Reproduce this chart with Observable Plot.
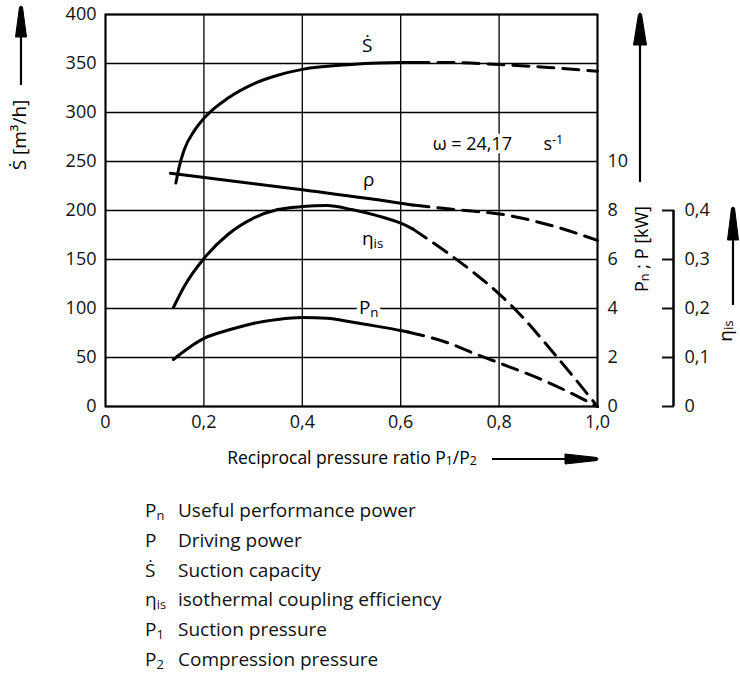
<!DOCTYPE html>
<html><head><meta charset="utf-8">
<script src="https://cdn.jsdelivr.net/npm/d3@7"></script>
<script src="https://cdn.jsdelivr.net/npm/@observablehq/plot@0.6"></script>
<style>
body{margin:0;background:#fff;font-family:"Open Sans",sans-serif;color:#111}
#legend{padding-top:26px;padding-left:145px}
.row{height:29.8px;line-height:29.8px;font-size:19px;display:flex}
.sym{width:33px}
sub{font-size:0.68em;vertical-align:-0.25em;line-height:0}
</style></head><body><div id="chart"></div><div id="legend"></div>
<script>
// ---- tick values / labels ----
const xTicks = [0, 0.2, 0.4, 0.6, 0.8, 1.0];
const xTickLabels = ["0", "0,2", "0,4", "0,6", "0,8", "1,0"];
const sTicks = [0, 50, 100, 150, 200, 250, 300, 350, 400];
const kwTicks = [0, 2, 4, 6, 8, 10];
const etaTicks = [0, 0.1, 0.2, 0.3, 0.4];
const etaTickLabels = ["0", "0,1", "0,2", "0,3", "0,4"];

// ---- series (x = P1/P2) ----
// Suction capacity S-dot [m3/h]
const sSolidX = [0.143, 0.15, 0.16, 0.18, 0.2, 0.25, 0.3, 0.35, 0.4, 0.5, 0.6, 0.625];
const sSolidY = [228, 245, 262, 281, 294, 315, 329, 338, 344, 349, 351, 351];
const sDashX = [0.625, 0.7, 0.8, 0.9, 1.0];
const sDashY = [351, 351, 349, 346, 342];
// Driving power P [kW] (labelled rho)
const pSolidX = [0.132, 0.4, 0.6, 0.625];
const pSolidY = [9.52, 8.85, 8.3, 8.22];
const pDashX = [0.625, 0.7, 0.75, 0.8, 0.9, 1.0];
const pDashY = [8.22, 8.06, 7.97, 7.86, 7.42, 6.78];
// isothermal coupling efficiency eta_is
const eSolidX = [0.138, 0.16, 0.2, 0.25, 0.3, 0.35, 0.4, 0.45, 0.5, 0.55, 0.6, 0.625];
const eSolidY = [0.202, 0.245, 0.302, 0.352, 0.384, 0.402, 0.408, 0.41, 0.402, 0.39, 0.374, 0.362];
const eDashX = [0.625, 0.7, 0.75, 0.8, 0.85, 0.9, 0.95, 1.0];
const eDashY = [0.362, 0.31, 0.272, 0.23, 0.18, 0.122, 0.062, 0];
// Useful performance power Pn [kW]
const nSolidX = [0.138, 0.2, 0.25, 0.3, 0.35, 0.4, 0.45, 0.5, 0.55, 0.6, 0.615];
const nSolidY = [1.92, 2.78, 3.12, 3.39, 3.55, 3.63, 3.6, 3.45, 3.28, 3.1, 3.04];
const nDashX = [0.615, 0.7, 0.75, 0.8, 0.9, 1.0];
const nDashY = [3.04, 2.57, 2.16, 1.78, 0.98, 0];

// curve labels
const labelText = ["Ṡ", "ρ", "η_{is}"];
const labelX = [0.532, 0.535, 0.543];
const labelY = [368, 231, 171];

// legend
const legendSym = ["P<sub>n</sub>", "P", "Ṡ", "η<sub>is</sub>", "P<sub>1</sub>", "P<sub>2</sub>"];
const legendText = ["Useful performance power", "Driving power", "Suction capacity", "isothermal coupling efficiency", "Suction pressure", "Compression pressure"];

// scale factors of the secondary axes onto the S-dot axis
const KW = 25, ETA = 500;
const pts = (xs, ys, k = 1) => xs.map((x, i) => ({x, y: ys[i] * k}));

const lineStyle = {x: "x", y: "y", stroke: "#000", strokeWidth: 3, curve: "monotone-x"};
const dash = {...lineStyle, strokeDasharray: "16,9"};

const chart = Plot.plot({
  width: 740, height: 470,
  marginLeft: 105, marginRight: 143, marginTop: 14, marginBottom: 64,
  x: {domain: [0, 1]},
  y: {domain: [0, 400]},
  style: {fontFamily: "'Open Sans', sans-serif", fontSize: "18px", color: "#111", background: "#fff"},
  marks: [
    Plot.gridX({ticks: xTicks, stroke: "#000", strokeOpacity: 1, strokeWidth: 1.3}),
    Plot.gridY({ticks: sTicks, stroke: "#000", strokeOpacity: 1, strokeWidth: 1.3}),
    Plot.frame({stroke: "#000", strokeWidth: 2}),
    Plot.axisX({ticks: xTicks, tickFormat: d => xTickLabels[xTicks.indexOf(d)], tickSize: 0, tickPadding: 9, label: null}),
    Plot.axisY({ticks: sTicks, tickSize: 0, tickPadding: 9, label: null}),
    Plot.axisY({anchor: "right", ticks: kwTicks.map(k => k * KW), tickFormat: d => String(d / KW), tickSize: 0, tickPadding: 10, label: null}),
    Plot.axisY({anchor: "right", ticks: etaTicks.map(e => e * ETA), tickFormat: d => etaTickLabels[etaTicks.indexOf(d / ETA)], tickSize: 12, tickPadding: 11, dx: 64, strokeWidth: 2, label: null}),
    Plot.ruleX([1], {y1: 0, y2: 0.4 * ETA, dx: 76, stroke: "#000", strokeWidth: 2.5}),
    Plot.line(pts(sSolidX, sSolidY), lineStyle),
    Plot.line(pts(sDashX, sDashY), dash),
    Plot.line(pts(pSolidX, pSolidY, KW), lineStyle),
    Plot.line(pts(pDashX, pDashY, KW), dash),
    Plot.line(pts(eSolidX, eSolidY, ETA), lineStyle),
    Plot.line(pts(eDashX, eDashY, ETA), dash),
    Plot.line(pts(nSolidX, nSolidY, KW), lineStyle),
    Plot.line(pts(nDashX, nDashY, KW), dash),
    Plot.text(labelText.map((t, i) => ({t, x: labelX[i], y: labelY[i]})), {x: "x", y: "y", text: "t", fontSize: 19, fill: "#000"}),
    // labels with a white halo that interrupts the gridlines
    Plot.text([{t: "P_{n}", x: 0.535, y: 101}], {x: "x", y: "y", text: "t", fontSize: 19, fill: "#000", stroke: "#fff", strokeWidth: 8}),
    Plot.text([{t: "ω = 24,17", x: 0.665, y: 268}], {x: "x", y: "y", text: "t", textAnchor: "start", fontSize: 18, fill: "#000", stroke: "#fff", strokeWidth: 7}),
    Plot.text([{t: "s^{-1}", x: 0.89, y: 268}], {x: "x", y: "y", text: "t", textAnchor: "start", fontSize: 18, fill: "#000"})
  ]
});
document.getElementById("chart").appendChild(chart);

const svg = d3.select(chart);
// convert _{..} and ^{..} markup into tspans
function richText(sel) {
  sel.each(function () {
    const s = this.textContent;
    if (!/[_^]\{/.test(s)) return;
    const el = d3.select(this);
    el.text(null);
    const re = /([_^])\{(.*?)\}/g;
    let last = 0, m;
    while ((m = re.exec(s))) {
      if (m.index > last) el.append("tspan").text(s.slice(last, m.index));
      el.append("tspan").attr("font-size", "70%").attr("baseline-shift", m[1] === "_" ? "-22%" : "45%").text(m[2]);
      last = re.lastIndex;
    }
    if (last < s.length) el.append("tspan").text(s.slice(last));
  });
}
richText(svg.selectAll("text"));

// axis titles
const title = (t, x, y, rot, size) => {
  const el = svg.append("text").attr("transform", `translate(${x},${y}) rotate(${rot})`)
    .attr("text-anchor", "middle").attr("dominant-baseline", "middle")
    .attr("font-size", size).attr("fill", "#000").text(t);
  richText(el);
};
title("Ṡ [m³/h]", 21, 135, -90, 19);
title("P_{n} ; P [kW]", 643, 249, -90, 18);
title("η_{is}", 727, 331, -90, 19);
title("Reciprocal pressure ratio P_{1}/P_{2}", 352, 459, 0, 17.5);

// arrows with filled tapered heads
function arrow(x0, y0, x1, y1, headLen, headW) {
  const dx = x1 - x0, dy = y1 - y0, L = Math.hypot(dx, dy), ux = dx / L, uy = dy / L;
  const bx = x1 - ux * headLen, by = y1 - uy * headLen, px = -uy, py = ux;
  svg.append("line").attr("x1", x0).attr("y1", y0).attr("x2", bx).attr("y2", by).attr("stroke", "#000").attr("stroke-width", 2.2);
  const tipW = 1.5;
  svg.append("path").attr("fill", "#000").attr("stroke", "#000").attr("stroke-width", 1).attr("stroke-linejoin", "round")
    .attr("d", `M${bx + px * headW / 2},${by + py * headW / 2} L${x1 + px * tipW},${y1 + py * tipW} Q${x1 + ux * 2},${y1 + uy * 2} ${x1 - px * tipW},${y1 - py * tipW} L${bx - px * headW / 2},${by - py * headW / 2} Z`);
}
arrow(21, 85, 21, 7, 30, 11);
arrow(640, 182, 640, 14, 31, 13);
arrow(733, 305, 733, 208, 32, 11);
arrow(492, 459, 597, 459, 32, 10);

// legend
const leg = d3.select("#legend");
legendSym.forEach((s, i) => {
  const r = leg.append("div").attr("class", "row");
  r.append("div").attr("class", "sym").html(s);
  r.append("div").text(legendText[i]);
});
</script></body></html>
